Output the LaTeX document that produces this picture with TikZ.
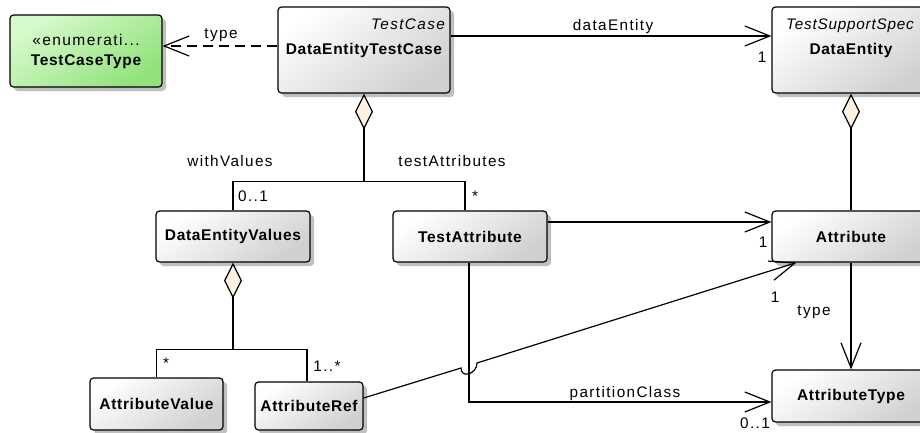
\documentclass[tikz,border=0pt]{standalone}
\usepackage{fontspec}
\setmainfont{Liberation Sans}[LetterSpace=9]
\usetikzlibrary{arrows.meta,shadows}
\definecolor{boxgrey}{RGB}{208,208,208}
\definecolor{enumlight}{RGB}{214,250,204}
\definecolor{enumdark}{RGB}{146,226,124}
\definecolor{diamfill}{RGB}{252,242,226}
\tikzset{
txt/.style={font=\fontsize{15.3}{20}\selectfont, inner sep=1pt},
cls/.style={draw, line width=1.2pt, rounded corners=3.5pt, top color=white, bottom color=boxgrey, shading angle=35, drop shadow={shadow xshift=4pt, shadow yshift=-4pt, fill=black!25, opacity=1}, font=\fontsize{15.5}{20}\selectfont\addfontfeature{LetterSpace=4.5}\bfseries, inner sep=0pt},
enum/.style={cls, top color=enumlight, bottom color=enumdark, shading angle=35, align=center},
assoc/.style={line width=1.2pt, -{Straight Barb[length=25pt,width=20pt]}},
dep/.style={assoc, dash pattern=on 10pt off 6pt},
agg/.style={line width=1.2pt, {Diamond[length=36pt,width=18pt,fill=diamfill]}-}
}
\begin{document}
\begin{tikzpicture}[x=1pt, y=-1pt, txt]
\useasboundingbox (0,0) rectangle (920,432);
\clip (0,0) rectangle (920,432);
\foreach \n/\x/\y/\w/\h/\t in {detc/364/50/172/86/DataEntityTestCase, de/851/50/158/86/DataEntity, dev/233/236.5/154/51/DataEntityValues, ta/470/236.5/154/51/TestAttribute, attr/851/236.5/158/51/Attribute, av/156.5/404/133/52/AttributeValue, ar/309/406/108/48/AttributeRef, at/851/396/158/52/AttributeType} {
\node[cls, minimum width=\w pt, minimum height=\h pt] (\n) at (\x,\y) {\t};
}
\node[enum, minimum width=152pt, minimum height=72pt] (tct) at (86,51) {\mdseries\addfontfeature{LetterSpace=9}«enumerati...\\TestCaseType};
\node[anchor=base east, font=\fontsize{15.3}{20}\selectfont\itshape] (detcst) at (446,29) {TestCase};
\node[anchor=base west, inner sep=0pt, font=\fontsize{15.3}{20}\selectfont\itshape\addfontfeature{LetterSpace=5}] (dest) at (786,29) {TestSupportSpec};
\draw[dep] ([yshift=4pt]detc.west) -- ([yshift=5pt]tct.east);
\draw[assoc] ([yshift=14pt]detc.east) -- ([yshift=14pt]de.west);
\draw[agg] (detc.south) -- ++(0,88) coordinate (j1);
\draw[line width=1.2pt] (j1) -| (dev.north);
\draw[line width=1.2pt] (j1) -| ([xshift=-5pt]ta.north);
\draw[agg] (de.south) -- (attr.north);
\draw[assoc] ([yshift=14.5pt]ta.east) -- ([yshift=14.5pt]attr.west);
\draw[agg] (dev.south) -- ++(0,87) coordinate (j2);
\draw[line width=1.2pt] (j2) -| (av.north);
\draw[line width=1.2pt] (j2) -| ([xshift=-2pt]ar.north);
\draw[assoc] ([yshift=8pt]ar.east) -- (461,368) .. controls (461,379) and (477,374) .. (477,363) -- ([xshift=25pt]attr.south west);
\draw[assoc] (attr.south) -- (at.north);
\draw[assoc] ([xshift=-1pt]ta.south) |- ([yshift=-6pt]at.west);
\node[anchor=base] (ltype) at (221,38) {type};
\node[anchor=base] (lde) at (613,30) {dataEntity};
\node[anchor=base] (mde) at (762,62) {1};
\node[anchor=base] (lwv) at (230,166) {withValues};
\node[anchor=base] (lta) at (452,166) {testAttributes};
\node[anchor=base] (mwv) at (253,201) {0..1};
\node[anchor=base] (mta) at (475,201) {*};
\node[anchor=base] (mattr) at (763,247) {1};
\node[anchor=base] (mref) at (775,302) {1};
\node[anchor=base] (lattype) at (814,315) {type};
\node[anchor=base] (lpc) at (625,397) {partitionClass};
\node[anchor=base] (mpc) at (755,428) {0..1};
\node[anchor=base] (mav) at (166,368) {*};
\node[anchor=base] (mar) at (327,371) {1..*};
\end{tikzpicture}
\end{document}
